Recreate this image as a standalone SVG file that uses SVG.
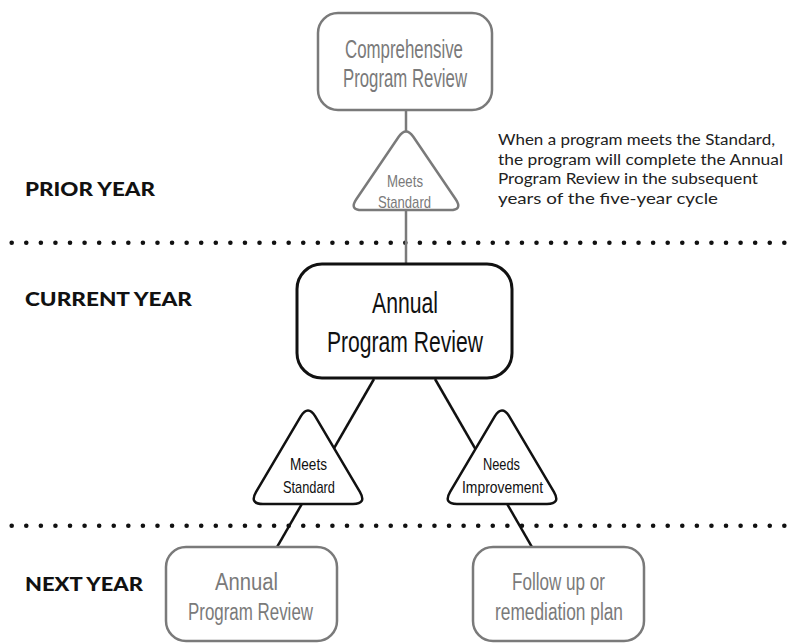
<svg xmlns="http://www.w3.org/2000/svg" width="795" height="644" viewBox="0 0 795 644">
<style>
.bg{fill:#ffffff}
.gbox{fill:#ffffff;stroke:#7a7a7a;stroke-width:2.5}
.bbox{fill:#ffffff;stroke:#111111;stroke-width:3}
.gtri{fill:#ffffff;stroke:#7a7a7a;stroke-width:2.5;stroke-linejoin:round}
.btri{fill:#ffffff;stroke:#111111;stroke-width:2.5;stroke-linejoin:round}
.gline{stroke:#7a7a7a;stroke-width:2.5;fill:none}
.bline{stroke:#111111;stroke-width:2.5;fill:none}
.dots{stroke:#111111;stroke-width:4.6;stroke-linecap:round;stroke-dasharray:0 14.578;fill:none}
.t{font-family:"Liberation Sans","DejaVu Sans",sans-serif;text-anchor:middle}
.gt{fill:#7a7a7a}
.bt{fill:#111111}
.lab{font-family:Lato,"Liberation Sans",sans-serif;font-weight:900;font-size:19px;fill:#111111}
.note{font-family:Lato,"Liberation Sans",sans-serif;font-size:15px;fill:#222222}
</style>
<rect class="bg" x="0" y="0" width="795" height="644"/>

<g id="separators">
<line class="dots" x1="11.7" y1="242.7" x2="784.4" y2="242.7"/>
<line class="dots" x1="11.7" y1="525.7" x2="784.4" y2="525.7"/>
</g>

<g id="year-labels">
<text class="lab" x="25" y="196" textLength="130" lengthAdjust="spacingAndGlyphs">PRIOR YEAR</text>
<text class="lab" x="25" y="306" textLength="167" lengthAdjust="spacingAndGlyphs">CURRENT YEAR</text>
<text class="lab" x="25" y="591" textLength="118" lengthAdjust="spacingAndGlyphs">NEXT YEAR</text>
</g>

<g id="note">
<text class="note" x="498" y="145" textLength="277" lengthAdjust="spacingAndGlyphs">When a program meets the Standard,</text>
<text class="note" x="498" y="164.5" textLength="285" lengthAdjust="spacingAndGlyphs">the program will complete the Annual</text>
<text class="note" x="498" y="184" textLength="260" lengthAdjust="spacingAndGlyphs">Program Review in the subsequent</text>
<text class="note" x="498" y="203.5" textLength="220" lengthAdjust="spacingAndGlyphs">years of the five-year cycle</text>
</g>

<g id="connectors">
<line class="gline" x1="406" y1="110" x2="406" y2="264"/>
<line class="bline" x1="374" y1="379" x2="277" y2="547"/>
<line class="bline" x1="435" y1="379" x2="532" y2="547"/>
</g>

<g id="comprehensive-review">
<rect class="gbox" x="318" y="13" width="174" height="97" rx="20"/>
<text class="t gt" x="404" y="58" font-size="25" textLength="118" lengthAdjust="spacingAndGlyphs">Comprehensive</text>
<text class="t gt" x="405" y="87" font-size="25" textLength="124" lengthAdjust="spacingAndGlyphs">Program Review</text>
</g>

<g id="meets-standard-prior">
<path class="gtri" d="M 398.7,136.8 Q 406,126 413.3,136.8 L 455.7,199.2 Q 463,210 450,210 L 362,210 Q 349,210 356.3,199.2 Z"/>
<text class="t gt" x="405" y="187" font-size="17" textLength="36" lengthAdjust="spacingAndGlyphs">Meets</text>
<text class="t gt" x="404.5" y="208" font-size="17" textLength="53" lengthAdjust="spacingAndGlyphs">Standard</text>
</g>

<g id="annual-review-current">
<rect class="bbox" x="297" y="264" width="215" height="114" rx="25"/>
<text class="t bt" x="405" y="313" font-size="29" textLength="66" lengthAdjust="spacingAndGlyphs">Annual</text>
<text class="t bt" x="405" y="352" font-size="29" textLength="156" lengthAdjust="spacingAndGlyphs">Program Review</text>
</g>

<g id="meets-standard-current">
<path class="btri" d="M 300.9,416.1 Q 308,405 315.1,416.1 L 359.9,491.9 Q 367,504 353,504 L 263,504 Q 249,504 256.1,491.9 Z"/>
<text class="t bt" x="308.5" y="470" font-size="17" textLength="37" lengthAdjust="spacingAndGlyphs">Meets</text>
<text class="t bt" x="309" y="493" font-size="17" textLength="52" lengthAdjust="spacingAndGlyphs">Standard</text>
</g>

<g id="needs-improvement">
<path class="btri" d="M 494.9,416.1 Q 502,405 509.1,416.1 L 553.9,491.9 Q 561,504 547,504 L 457,504 Q 443,504 450.1,491.9 Z"/>
<text class="t bt" x="501.5" y="470" font-size="17" textLength="37" lengthAdjust="spacingAndGlyphs">Needs</text>
<text class="t bt" x="502.5" y="493" font-size="17" textLength="81" lengthAdjust="spacingAndGlyphs">Improvement</text>
</g>

<g id="annual-review-next">
<rect class="gbox" x="166" y="547" width="171" height="94" rx="20"/>
<text class="t gt" x="246.5" y="590" font-size="23" textLength="63" lengthAdjust="spacingAndGlyphs">Annual</text>
<text class="t gt" x="250.5" y="620" font-size="23" textLength="125" lengthAdjust="spacingAndGlyphs">Program Review</text>
</g>

<g id="follow-up-plan">
<rect class="gbox" x="473" y="547" width="171" height="94" rx="20"/>
<text class="t gt" x="558.5" y="590" font-size="23" textLength="93" lengthAdjust="spacingAndGlyphs">Follow up or</text>
<text class="t gt" x="559" y="620" font-size="23" textLength="128" lengthAdjust="spacingAndGlyphs">remediation plan</text>
</g>
</svg>
